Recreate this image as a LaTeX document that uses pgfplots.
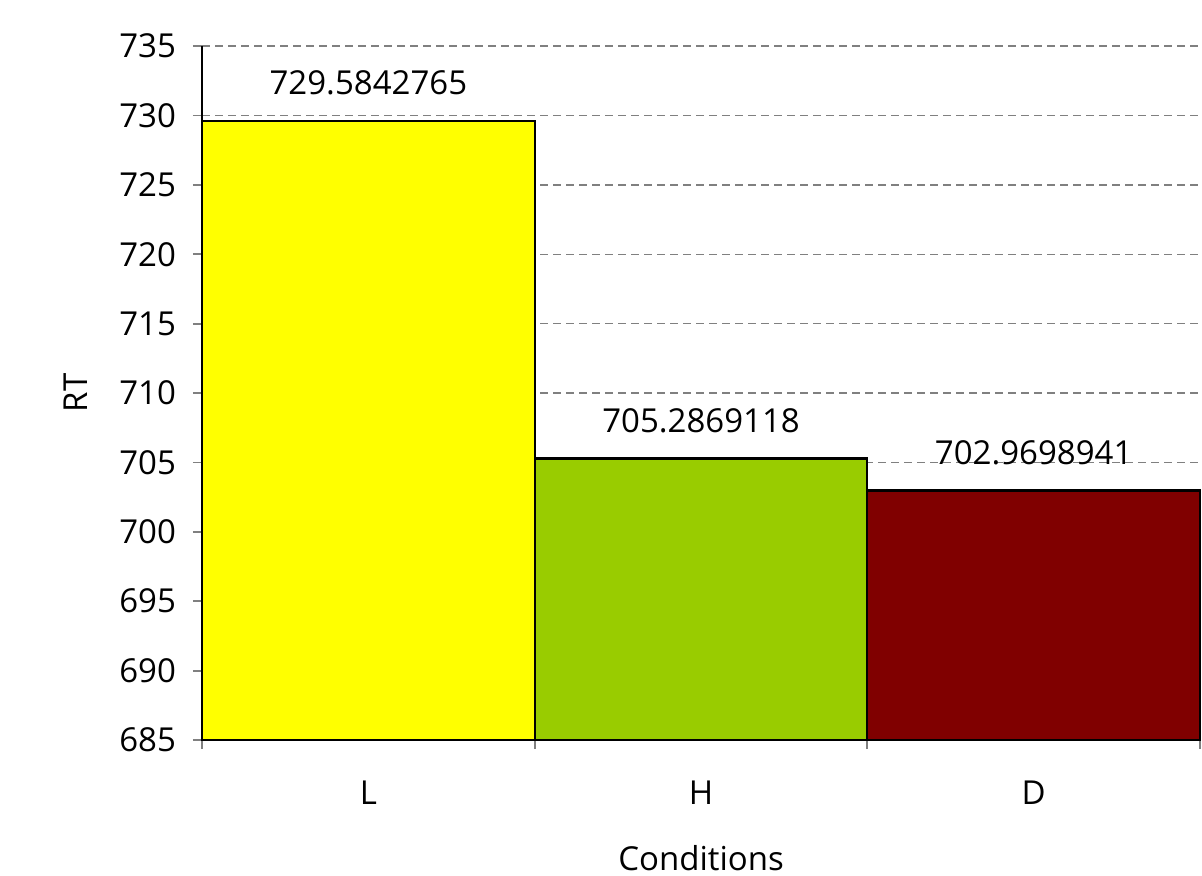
\documentclass[border=0pt]{standalone}
\usepackage{fontspec}
\setmainfont{Open Sans}
\usepackage{pgfplots}
\pgfplotsset{compat=1.18}
\definecolor{barY}{HTML}{FFFF00}
\definecolor{barG}{HTML}{99CC00}
\definecolor{barR}{HTML}{800000}
\begin{document}
\begin{tikzpicture}
\begin{axis}[
  at={(0,0)}, anchor=south west,
  scale only axis,
  width=499pt, height=347pt,
  xmin=-0.5, xmax=2.5,
  ymin=685, ymax=735,
  ytick={685,690,...,735},
  xtick={-0.5,0.5,1.5,2.5},
  xticklabels={},
  extra x ticks={0,1,2},
  extra x tick labels={L,H,D},
  extra x tick style={major tick length=0pt, grid=none,
    tick label style={yshift=-17pt}},
  axis x line*=bottom, axis y line*=left,
  axis line style={black, line width=1pt, -},
  tick style={gray, line width=0.9pt},
  major tick length=4.5pt,
  tick align=outside,
  ymajorgrids,
  grid style={gray, line width=0.7pt, dash pattern=on 4pt off 2.5pt},
  tick label style={font=\fontsize{16.5}{19}\selectfont},
  yticklabel style={xshift=-5pt},
  /pgf/number format/assume math mode=true,
  /pgf/number format/1000 sep={},
  clip=false,
]
\addplot[ybar, bar width=1, draw=black, line width=1.1pt, fill=barY,
  point meta=explicit symbolic,
  nodes near coords={\pgfplotspointmeta},
  nodes near coords style={font=\fontsize{16.5}{19}\selectfont, yshift=9pt}]
  table[meta=label] {
  x y label
  0 729.5842765 729.5842765
};
\addplot[ybar, bar width=1, draw=black, line width=1.1pt, fill=barG,
  point meta=explicit symbolic,
  nodes near coords={\pgfplotspointmeta},
  nodes near coords style={font=\fontsize{16.5}{19}\selectfont, yshift=9pt}]
  table[meta=label] {
  x y label
  1 705.2869118 705.2869118
};
\addplot[ybar, bar width=1, draw=black, line width=1.1pt, fill=barR,
  point meta=explicit symbolic,
  nodes near coords={\pgfplotspointmeta},
  nodes near coords style={font=\fontsize{16.5}{19}\selectfont, yshift=9pt}]
  table[meta=label] {
  x y label
  2 702.9698941 702.9698941
};
\node[font=\fontsize{16.5}{19}\selectfont] at ([yshift=-59pt]axis description cs:0.5,0) {Conditions};
\node[font=\fontsize{16.5}{19}\selectfont, rotate=90] at ([xshift=-63pt]axis description cs:0,0.5) {RT};
\end{axis}
\pgfresetboundingbox
\path[use as bounding box] (-101pt,-68pt) rectangle (500pt,370pt);
\end{tikzpicture}
\end{document}
